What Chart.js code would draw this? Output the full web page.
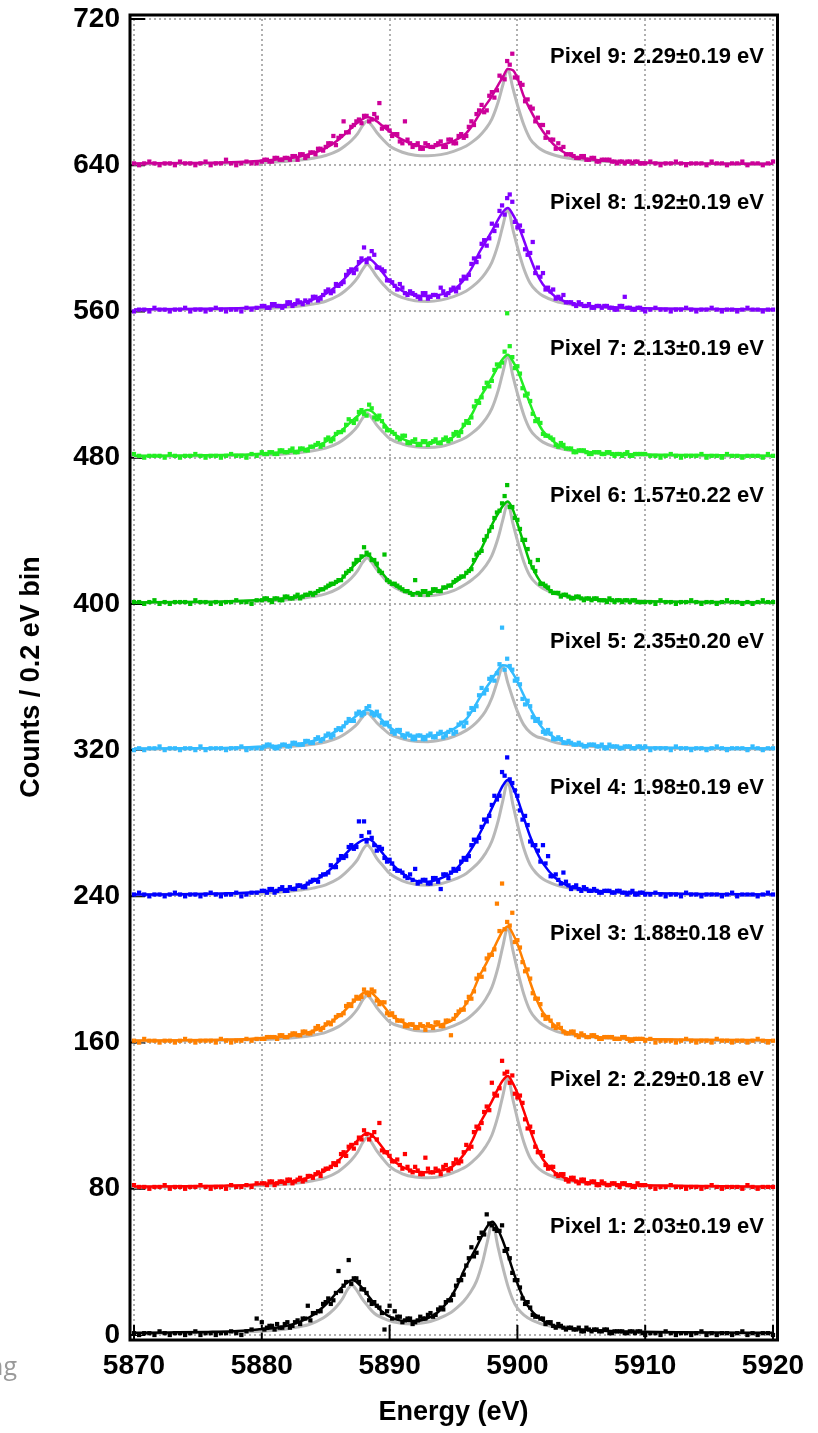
<!DOCTYPE html>
<html>
<head>
<meta charset="utf-8">
<title>Pixel spectra</title>
<script src="https://cdn.jsdelivr.net/npm/chart.js@4.4.1/dist/chart.umd.min.js"></script>
<style>
  html, body { margin: 0; padding: 0; background: #fff; }
  #chart { display: block; }
</style>
</head>
<body>
<canvas id="chart" width="818" height="1433"></canvas>
<script>
// energy points of the fitted curves (eV)
const energyGrid = [5870, 5874, 5877, 5879, 5881, 5882, 5883, 5884, 5885, 5886, 5886.5, 5887, 5887.5, 5887.9, 5888.25,
  5888.6, 5889, 5889.5, 5890, 5891, 5892, 5893, 5894, 5895, 5896, 5896.5, 5897, 5897.5, 5898, 5898.5,
  5898.85, 5899.25, 5899.65, 5900, 5900.5, 5901, 5901.5, 5902, 5903, 5904, 5905, 5907, 5910, 5914, 5920];
// pixel 1 lines sit about 1.2 eV lower
const energyGridP1 = [5870, 5872.8, 5875.8, 5877.8, 5879.8, 5880.8, 5881.8, 5882.8, 5883.8, 5884.8, 5885.3, 5885.8, 5886.3, 5886.7, 5887.05,
  5887.4, 5887.8, 5888.3, 5888.8, 5889.8, 5890.8, 5891.8, 5892.8, 5893.8, 5894.8, 5895.3, 5895.8, 5896.3, 5896.8, 5897.3,
  5897.65, 5898.05, 5898.45, 5898.8, 5899.3, 5899.8, 5900.3, 5900.8, 5901.8, 5902.8, 5903.8, 5905.8, 5908.8, 5912.8, 5920];
// bin centres of the measured counts (every other 0.2 eV bin over the whole range)
const binEnergy = [
  5870, 5870.4, 5870.8, 5871.2, 5871.6, 5872, 5872.4, 5872.8, 5873.2, 5873.6,
  5874, 5874.4, 5874.8, 5875.2, 5875.6, 5876, 5876.4, 5876.8, 5877.2, 5877.6,
  5878, 5878.4, 5878.8, 5879.2, 5879.6, 5880, 5880.4, 5880.8, 5881.2, 5881.6,
  5882, 5882.4, 5882.8, 5883.2, 5883.6, 5884, 5884.4, 5884.8, 5885.2, 5885.6,
  5886, 5886.4, 5886.8, 5887.2, 5887.6, 5888, 5888.4, 5888.8, 5889.2, 5889.6,
  5890, 5890.4, 5890.8, 5891.2, 5891.6, 5892, 5892.4, 5892.8, 5893.2, 5893.6,
  5894, 5894.4, 5894.8, 5895.2, 5895.6, 5896, 5896.4, 5896.8, 5897.2, 5897.6,
  5898, 5898.4, 5898.8, 5899.2, 5899.6, 5900, 5900.4, 5900.8, 5901.2, 5901.6,
  5902, 5902.4, 5902.8, 5903.2, 5903.6, 5904, 5904.4, 5904.8, 5905.2, 5905.6,
  5906, 5906.4, 5906.8, 5907.2, 5907.6, 5908, 5908.4, 5908.8, 5909.2, 5909.6,
  5910, 5910.4, 5910.8, 5911.2, 5911.6, 5912, 5912.4, 5912.8, 5913.2, 5913.6,
  5914, 5914.4, 5914.8, 5915.2, 5915.6, 5916, 5916.4, 5916.8, 5917.2, 5917.6,
  5918, 5918.4, 5918.8, 5919.2, 5919.6, 5920];
// the in-between bins around the lines
const binEnergyMid = [
  5880.2, 5880.6, 5881, 5881.4, 5881.8, 5882.2, 5882.6, 5883, 5883.4, 5883.8,
  5884.2, 5884.6, 5885, 5885.4, 5885.8, 5886.2, 5886.6, 5887, 5887.4, 5887.8,
  5888.2, 5888.6, 5889, 5889.4, 5889.8, 5890.2, 5890.6, 5891, 5891.4, 5891.8,
  5892.2, 5892.6, 5893, 5893.4, 5893.8, 5894.2, 5894.6, 5895, 5895.4, 5895.8,
  5896.2, 5896.6, 5897, 5897.4, 5897.8, 5898.2, 5898.6, 5899, 5899.4, 5899.8,
  5900.2, 5900.6, 5901, 5901.4, 5901.8, 5902.2, 5902.6, 5903, 5903.4, 5903.8,
  5904.2, 5904.6, 5905, 5905.4, 5905.8, 5906.2, 5906.6, 5907, 5907.4, 5907.8, 5908.2, 5908.6, 5909, 5909.4, 5909.8];

const xTicks = [5870, 5880, 5890, 5900, 5910, 5920];
const yTicks = [0, 80, 160, 240, 320, 400, 480, 560, 640, 720];

// each spectrum is shifted up by 80 counts
const offsets = [0, 80, 160, 240, 320, 400, 480, 560, 640];
const colors = ["#000000", "#ff0000", "#ff8000", "#0000ff", "#33bbff", "#00c000", "#22ee22", "#8000ff", "#cc0099"];
const pixelLabels = [
  "Pixel 1: 2.03\u00b10.19 eV", "Pixel 2: 2.29\u00b10.18 eV", "Pixel 3: 1.88\u00b10.18 eV",
  "Pixel 4: 1.98\u00b10.19 eV", "Pixel 5: 2.35\u00b10.20 eV", "Pixel 6: 1.57\u00b10.22 eV",
  "Pixel 7: 2.13\u00b10.19 eV", "Pixel 8: 1.92\u00b10.19 eV", "Pixel 9: 2.29\u00b10.19 eV"
];

// fitted curves (counts above each offset)
const fitP1 = [1.2, 1.4, 1.7, 2.1, 3.1, 3.7, 4.8, 6.8, 10.0, 15.3, 18.8, 22.7, 26.2, 28.9, 30.0, 29.2, 26.2, 21.8, 17.1, 10.8, 8.0, 7.6, 8.6, 12.6, 20.8, 27.0, 35.0, 41.5, 48.1, 55.2, 59.5, 62.0, 58.0, 52.7, 42.8, 32.2, 22.9, 16.1, 8.7, 5.3, 3.8, 2.6, 1.9, 1.5, 1.2];
const fitP2 = [1.2, 1.4, 1.7, 2.1, 3.1, 3.8, 4.8, 6.9, 10.1, 15.5, 19.1, 22.9, 26.5, 29.2, 30.4, 29.5, 26.5, 22.1, 17.3, 11.9, 9.4, 9.0, 9.9, 12.6, 20.7, 26.8, 34.9, 41.3, 47.8, 54.9, 59.2, 61.7, 57.7, 52.4, 42.6, 32.1, 22.8, 16.0, 8.6, 5.2, 3.8, 2.6, 1.9, 1.5, 1.2];
const fitP3 = [1.1, 1.3, 1.6, 2.0, 2.9, 3.5, 4.4, 6.3, 9.3, 14.3, 17.6, 21.1, 24.4, 26.9, 28.0, 27.2, 24.4, 20.3, 15.9, 11.2, 9.0, 8.8, 9.9, 12.8, 21.3, 27.6, 35.9, 42.5, 49.2, 56.5, 61.0, 63.5, 59.4, 54.0, 43.8, 33.0, 23.5, 16.5, 8.9, 5.4, 3.9, 2.7, 1.9, 1.5, 1.3];
const fitP4 = [1.0, 1.2, 1.6, 2.1, 3.2, 4.0, 5.3, 8.0, 12.6, 19.0, 22.8, 26.3, 29.0, 30.8, 31.3, 30.5, 27.5, 23.2, 19.0, 12.6, 8.6, 8.0, 9.9, 13.5, 21.7, 27.0, 33.6, 40.5, 48.2, 55.5, 60.5, 63.7, 59.5, 53.6, 43.0, 32.7, 24.5, 18.0, 9.9, 5.6, 4.0, 2.6, 1.8, 1.3, 1.0];
const fitP5 = [0.9, 1.0, 1.2, 1.6, 2.2, 2.7, 3.5, 5.0, 7.3, 11.2, 13.8, 16.6, 19.2, 21.1, 22.0, 21.3, 19.2, 15.9, 12.5, 8.7, 7.8, 7.6, 8.8, 11.5, 17.0, 22.0, 28.0, 33.5, 38.5, 44.0, 46.4, 45.8, 42.0, 37.5, 30.0, 22.8, 16.5, 11.8, 6.5, 4.0, 2.9, 2.0, 1.4, 1.1, 0.9];
const fitP6 = [0.8, 1.0, 1.3, 1.8, 2.6, 3.2, 4.0, 5.8, 8.6, 12.2, 15.5, 19.5, 23.0, 25.8, 26.8, 25.0, 20.8, 16.2, 12.2, 7.7, 5.8, 6.2, 7.7, 11.3, 16.5, 21.5, 27.7, 35.0, 43.2, 49.5, 53.5, 56.0, 51.5, 44.1, 33.0, 22.3, 15.5, 10.4, 5.8, 4.0, 3.0, 2.0, 1.4, 1.0, 0.8];
const fitP7 = [1.0, 1.2, 1.5, 1.8, 2.7, 3.2, 4.1, 5.9, 8.7, 13.3, 16.4, 19.7, 22.8, 25.1, 26.1, 25.4, 22.8, 19.0, 14.9, 10.3, 8.2, 8.0, 8.9, 11.4, 18.9, 24.5, 31.8, 37.7, 43.6, 50.1, 54.0, 56.3, 52.6, 47.9, 38.8, 29.3, 20.8, 14.6, 7.9, 4.8, 3.5, 2.4, 1.7, 1.4, 1.1];
const fitP8 = [1.1, 1.4, 1.6, 2.0, 2.9, 3.6, 4.6, 6.5, 9.6, 14.7, 18.1, 21.8, 25.2, 27.7, 28.9, 28.0, 25.2, 20.9, 16.4, 11.2, 8.8, 8.4, 9.2, 11.6, 19.0, 24.6, 32.0, 37.9, 43.9, 50.4, 54.3, 56.6, 52.9, 48.1, 39.1, 29.4, 20.9, 14.7, 7.9, 4.8, 3.5, 2.4, 1.7, 1.4, 1.1];
const fitP9 = [1.0, 1.2, 1.5, 2.0, 3.0, 3.8, 4.8, 6.7, 9.4, 14.0, 17.0, 20.3, 23.3, 25.3, 26.2, 25.8, 24.0, 21.2, 18.5, 14.0, 11.0, 10.0, 11.0, 13.2, 17.6, 22.0, 27.6, 32.6, 37.7, 44.0, 48.0, 52.7, 52.0, 47.7, 37.7, 30.4, 24.0, 18.5, 10.3, 5.7, 3.9, 2.3, 1.4, 1.0, 0.8];

// grey reference line shape for each pixel
const grayP1 = [0.8, 1.0, 1.3, 1.6, 2.0, 2.5, 3.2, 4.3, 6.0, 9.3, 11.9, 15.2, 19.7, 24.8, 27.4, 24.8, 20.3, 15.8, 11.9, 8.3, 6.5, 6.0, 6.8, 8.9, 12.3, 15.1, 18.5, 23.1, 29.5, 40.6, 51.1, 61.5, 49.2, 38.8, 25.8, 16.9, 12.3, 9.4, 6.2, 4.5, 3.5, 2.4, 1.7, 1.2, 0.9];
const grayP2 = [0.9, 1.0, 1.3, 1.6, 2.1, 2.6, 3.3, 4.4, 6.1, 9.5, 12.2, 15.6, 20.1, 25.3, 28.1, 25.3, 20.7, 16.2, 12.2, 8.2, 6.4, 6.0, 6.7, 8.9, 12.2, 15.0, 18.3, 22.9, 29.3, 40.3, 50.6, 61.0, 48.8, 38.4, 25.6, 16.8, 12.2, 9.3, 6.1, 4.5, 3.5, 2.4, 1.7, 1.2, 0.9];
const grayP3 = [0.8, 1.0, 1.2, 1.5, 1.9, 2.4, 3.0, 4.0, 5.6, 8.7, 11.2, 14.3, 18.5, 23.3, 25.8, 23.3, 19.1, 14.9, 11.2, 8.5, 6.6, 6.2, 6.9, 9.1, 12.6, 15.4, 18.9, 23.6, 30.2, 41.6, 52.3, 63.0, 50.4, 39.7, 26.5, 17.3, 12.6, 9.6, 6.3, 4.6, 3.6, 2.5, 1.7, 1.2, 1.0];
const grayP4 = [0.9, 1.1, 1.3, 1.6, 2.1, 2.6, 3.4, 4.5, 6.3, 9.7, 12.5, 16.0, 20.2, 25.5, 28.1, 25.5, 20.8, 16.6, 12.5, 8.5, 6.6, 6.1, 6.9, 9.1, 12.5, 15.4, 18.8, 23.5, 30.1, 41.4, 52.0, 62.7, 50.2, 39.5, 26.3, 17.2, 12.5, 9.5, 6.3, 4.6, 3.6, 2.5, 1.7, 1.2, 0.9];
const grayP5 = [0.6, 0.8, 0.9, 1.2, 1.5, 1.9, 2.4, 3.2, 4.4, 6.8, 8.8, 11.3, 14.6, 18.3, 20.3, 18.3, 15.0, 11.7, 8.8, 6.2, 4.8, 4.6, 5.5, 7.4, 10.8, 13.3, 16.6, 21.2, 28.5, 39.1, 46.0, 36.8, 28.1, 21.2, 13.8, 9.7, 7.4, 6.4, 4.1, 3.0, 2.4, 1.7, 1.2, 0.9, 0.7];
const grayP6 = [0.8, 0.9, 1.2, 1.4, 1.9, 2.3, 3.0, 4.0, 5.5, 8.5, 11.0, 14.0, 18.2, 22.8, 25.3, 22.8, 18.7, 14.6, 11.0, 6.8, 4.9, 4.5, 5.2, 7.2, 11.0, 13.5, 16.5, 20.6, 26.4, 36.3, 45.7, 55.0, 44.0, 34.7, 23.1, 15.1, 11.0, 8.4, 5.5, 4.0, 3.1, 2.2, 1.5, 1.1, 0.8];
const grayP7 = [0.7, 0.9, 1.1, 1.4, 1.8, 2.2, 2.8, 3.8, 5.2, 8.1, 10.5, 13.4, 17.3, 21.8, 24.1, 21.8, 17.8, 13.9, 10.5, 7.5, 5.9, 5.5, 6.1, 8.1, 11.2, 13.7, 16.7, 20.9, 26.8, 36.8, 46.3, 55.8, 44.6, 35.2, 23.4, 15.3, 11.2, 8.5, 5.6, 4.1, 3.2, 2.2, 1.5, 1.1, 0.8];
const grayP8 = [0.8, 1.0, 1.2, 1.5, 1.9, 2.4, 3.0, 4.0, 5.6, 8.7, 11.2, 14.3, 18.5, 23.2, 25.8, 23.2, 19.0, 14.8, 11.2, 7.6, 5.9, 5.5, 6.2, 8.1, 11.2, 13.7, 16.8, 21.0, 26.9, 37.0, 46.5, 56.0, 44.8, 35.3, 23.5, 15.4, 11.2, 8.5, 5.6, 4.1, 3.2, 2.2, 1.5, 1.1, 0.8];
const grayP9 = [0.7, 0.9, 1.1, 1.4, 1.8, 2.2, 2.8, 3.8, 5.3, 8.1, 10.5, 13.4, 17.3, 21.8, 24.2, 21.8, 17.9, 13.9, 10.5, 7.1, 5.5, 5.2, 5.8, 7.6, 10.5, 12.9, 15.8, 19.7, 25.2, 34.7, 43.6, 52.5, 42.0, 33.1, 22.1, 14.4, 10.5, 8.0, 5.3, 3.8, 3.0, 2.1, 1.4, 1.0, 0.8];

// measured counts at binEnergy
const countsP1 = [1,0,1,1,0,2,1,0,1,1,0,1,2,0,1,1,0,1,1,2,1,0,2,3,9,
  7,4,5,6,4,7,5,8,9,16, 12,13,17,20,19,35,27,41,31,29, 25,19,18,15,3,16,13,10,8,9,
  7,10,9,12,11,15,18,19,27,30, 38,48,45,56,66,60,57,60,47,34, 30,20,18,11,10,9,7,5,6,4,
  4,3,4,2,3,3,2,3,1,2,2,1,2,1,2,
  0,1,1,0,2,1,0,1,1,0,1,2,0,1,0,1,1,0,1,2,0,1,0,1,1,0];
const countsP2 = [2,1,1,0,1,1,2,0,1,1,0,1,1,2,1,0,1,1,0,2,1,1,2,1,3,
  3,2,4,3,4,5,3,5,4,7, 6,9,10,11,14,15,20,23,22,28, 32,27,31,36,20,18,15,13,19,10,
  12,8,17,9,11,8,13,11,16,15, 24,23,34,36,45,58,51,70,64,62, 50,47,33,31,20,18,11,12,7,8,
  4,6,3,5,3,4,2,3,2,3,1,3,2,1,2,
  2,1,0,1,1,2,1,1,0,1,1,0,1,2,1,0,1,1,1,0,2,1,0,1,1,1];
const countsP3 = [1,0,2,1,1,0,1,1,0,1,2,1,0,1,1,1,0,2,1,0,1,1,2,1,2,
  2,3,3,2,4,3,5,4,6,5, 6,9,8,11,12,15,16,21,23,24, 29,26,28,21,22,15,14,12,9,10,
  8,10,7,9,11,9,12,4,15,18, 22,24,35,36,46,48,76,87,66,71, 56,44,40,27,24,15,14,9,10,6,
  5,6,3,4,3,4,2,3,3,2,2,3,1,2,2,
  1,2,0,1,1,1,0,1,2,1,0,1,1,0,2,1,1,0,1,1,0,1,2,1,0,1];
const countsP4 = [1,2,1,0,1,1,0,1,2,1,0,1,1,0,1,2,1,0,1,1,2,0,1,2,2,
  3,2,4,3,5,3,4,6,5,7, 9,8,12,13,16,20,21,27,26,41, 41,35,28,27,21,20,15,14,11,12,
  15,8,9,7,10,4,12,13,14,19, 20,28,30,38,41,50,53,68,76,62, 55,42,39,28,25,28,22,11,9,13,
  6,5,4,5,3,4,2,3,3,2,3,2,2,1,2,
  1,1,2,1,0,1,1,0,2,1,1,0,1,1,1,0,1,2,0,1,1,1,0,1,2,1];
const countsP5 = [0,1,0,1,1,2,0,1,1,0,1,1,0,2,0,1,1,1,0,1,1,2,0,1,1,
  1,3,2,1,3,2,4,3,3,5, 4,7,6,9,8,12,13,17,16,21, 20,24,19,19,14,13,9,11,7,8,
  6,8,6,9,7,10,8,11,10,15, 15,23,24,34,33,40,42,67,50,44, 39,28,27,18,17,10,11,6,7,4,
  5,3,4,2,3,3,2,1,3,2,1,2,2,1,2,
  2,0,1,1,1,0,2,1,1,0,1,1,0,1,2,1,0,1,1,1,0,2,1,0,1,1];
const countsP6 = [1,1,0,1,2,0,1,0,1,1,1,0,2,1,1,0,1,0,1,1,2,1,1,0,2,
  2,3,1,3,2,4,3,5,4,5, 5,7,8,10,11,13,15,18,22,24, 31,27,24,18,27,12,11,9,7,6,
  13,5,7,6,8,7,9,10,13,15, 17,19,27,29,37,42,50,55,65,53, 46,35,30,20,24,11,9,6,6,5,
  4,3,4,2,3,3,2,2,3,1,2,2,1,2,1,
  1,1,0,2,1,1,0,1,1,2,1,0,1,1,0,1,2,1,1,0,1,0,1,2,1,1];
const countsP7 = [2,1,0,1,1,1,0,2,1,0,1,1,2,1,0,1,1,0,1,2,1,1,0,2,1,
  3,2,3,2,4,3,5,3,5,4, 6,8,7,11,10,14,15,21,19,25, 24,29,22,23,17,15,13,10,12,8,
  10,7,9,8,10,8,11,10,14,14, 20,22,31,33,41,42,51,52,79,55, 50,38,35,24,21,13,12,10,6,7,
  5,3,4,4,2,3,3,2,3,1,2,2,1,2,2,
  2,1,1,0,1,2,1,0,1,1,1,2,0,1,1,0,2,1,1,0,1,1,1,0,2,1];
const countsP8 = [0,1,1,0,2,1,1,0,1,1,2,0,1,1,0,1,2,1,0,1,1,0,2,1,2,
  3,2,4,3,2,5,3,6,4,5, 8,6,9,12,11,14,16,22,21,27, 35,29,31,24,22,17,14,15,10,11,
  9,7,10,8,9,13,9,12,11,17, 18,26,27,37,36,48,47,58,62,60, 46,44,31,38,24,21,13,12,8,9,
  5,4,5,3,4,2,3,3,2,1,3,8,2,1,2,
  0,1,2,1,1,0,1,1,2,1,0,1,1,2,1,0,1,1,0,1,2,1,1,0,1,1];
const countsP9 = [1,0,1,2,1,0,1,1,0,2,1,1,0,1,2,0,1,1,3,1,0,1,2,1,1,
  2,3,2,4,3,4,5,3,6,5, 7,9,8,12,16,15,24,18,22,25, 27,24,28,34,21,19,17,13,24,12,
  11,9,12,10,11,13,10,14,12,17, 16,24,28,33,30,40,41,48,57,61, 48,44,36,31,26,22,18,14,12,10,
  6,5,4,5,3,4,2,3,3,2,2,1,2,2,1,
  1,2,1,0,1,1,2,1,0,1,1,1,0,2,1,1,0,1,1,2,0,1,1,0,1,2];

// measured counts at binEnergyMid
const midP1 = [3,5,3,4,6,4,7,6,9,8, 12,13,18,17,23,24,29,28,31,25, 23,17,16,12,13,9,10,7,9,6,
  8,9,11,10,14,14,19,22,30,33, 42,43,53,55,61,58,57,46,42,30, 26,17,15,10,9,6,7,4,5,3,
  4,3,2,4,2,3,2,3,1,2,2,1,2,2,1];
const midP2 = [3,4,2,4,3,5,4,6,5,7, 8,7,11,12,13,19,18,24,25,27, 30,29,27,21,20,15,16,11,12,9,
  10,8,11,9,10,12,10,14,14,20, 22,31,33,42,43,52,55,63,58,52, 51,38,34,23,20,13,12,8,8,5,
  6,4,5,3,4,2,4,2,3,2,3,2,1,3,2];
const midP3 = [2,3,3,4,3,4,5,4,6,5, 8,7,10,10,14,15,20,20,25,25, 27,29,23,22,16,16,12,12,9,10,
  8,9,10,8,11,9,12,13,17,18, 25,28,37,40,48,51,61,62,64,55, 52,39,35,24,21,13,12,8,8,5,
  6,4,5,3,4,3,2,3,3,2,3,2,1,2,2];
const midP4 = [3,4,2,4,3,5,4,6,5,8, 9,11,12,17,16,22,22,28,27,33, 30,32,25,26,19,18,14,13,10,9,
  7,9,7,10,8,12,10,15,15,21, 22,31,32,42,44,55,55,66,64,58, 47,44,30,28,19,18,11,12,7,8,
  4,6,3,4,3,3,2,3,2,3,2,1,3,1,2];
const midP5 = [2,3,1,2,3,2,4,3,5,4, 6,5,8,7,11,11,15,16,20,19, 23,20,21,15,15,10,11,8,9,6,
  8,6,8,7,9,7,10,9,14,13, 20,22,30,31,39,38,47,44,46,38, 36,25,24,16,15,9,9,6,6,4,
  4,3,3,2,3,2,3,1,2,2,1,2,1,2,1];
const midP6 = [3,2,3,2,4,3,4,3,5,6, 6,8,9,11,12,13,17,19,24,26, 28,24,22,17,13,11,10,8,7,5,
  6,7,5,8,7,9,10,12,14,15, 18,24,28,35,40,47,51,59,53,47, 41,35,23,18,11,10,7,6,4,5,
  3,4,3,3,2,3,2,1,2,2,1,2,2,1,1];
const midP7 = [2,3,2,4,3,4,3,5,4,6, 7,6,10,9,13,14,18,20,21,26, 23,27,21,20,15,14,11,12,8,9,
  7,9,7,9,8,10,9,13,12,18, 19,28,30,38,39,48,50,58,61,49, 46,34,31,20,19,12,11,7,8,5,
  5,3,4,3,2,3,2,3,2,2,1,3,1,2,2];
const midP8 = [3,2,4,3,3,5,4,5,6,6, 8,7,11,10,15,15,20,23,23,29, 27,33,24,23,17,16,12,13,9,10,
  8,10,7,9,8,11,10,13,13,19, 20,29,30,39,40,44,55,53,64,49, 47,34,32,21,19,12,11,7,7,5,
  5,3,4,3,2,3,2,3,2,1,3,2,1,2,1];
const midP9 = [3,2,4,3,4,3,5,6,4,7, 6,9,10,12,11,16,18,21,24,23, 27,25,26,20,21,16,17,12,14,10,
  12,9,11,10,12,10,14,12,16,15, 21,22,30,29,38,37,49,47,55,48, 45,35,32,24,22,15,14,9,9,6,
  6,4,5,3,4,2,3,3,2,1,2,2,1,2,1];

const fits = [fitP1, fitP2, fitP3, fitP4, fitP5, fitP6, fitP7, fitP8, fitP9];
const grays = [grayP1, grayP2, grayP3, grayP4, grayP5, grayP6, grayP7, grayP8, grayP9];
const counts = [countsP1, countsP2, countsP3, countsP4, countsP5, countsP6, countsP7, countsP8, countsP9];
const countsMid = [midP1, midP2, midP3, midP4, midP5, midP6, midP7, midP8, midP9];

const labelFont = "'Liberation Sans', Arial, sans-serif";

function toPoints(xs, ys, offset) {
  return xs.map((e, i) => ({ x: e, y: offset + ys[i] }));
}

const datasets = [];
for (let p = 0; p < 9; p++) {
  const grid = p === 0 ? energyGridP1 : energyGrid;
  datasets.push({
    data: toPoints(grid, grays[p], offsets[p]),
    borderColor: "#b8b8b8",
    borderWidth: 3,
    pointRadius: 0,
    cubicInterpolationMode: "monotone",
    order: 3,
    clip: 6
  });
  datasets.push({
    data: toPoints(binEnergy, counts[p], offsets[p]).concat(toPoints(binEnergyMid, countsMid[p], offsets[p])),
    showLine: false,
    backgroundColor: colors[p],
    borderWidth: 0,
    pointStyle: "rect",
    pointRadius: 3,
    order: 2,
    clip: 6
  });
  datasets.push({
    data: toPoints(grid, fits[p], offsets[p]),
    borderColor: colors[p],
    borderWidth: 2.5,
    pointRadius: 0,
    cubicInterpolationMode: "monotone",
    order: 1,
    clip: 6
  });
}

function frameBox(ca) {
  return { left: ca.left - 4, top: ca.top - 4, right: ca.right + 4.5, bottom: ca.bottom + 5 };
}

// inward ticks go under the data, frame and labels on top
const decorations = {
  id: "decorations",
  beforeDatasetsDraw(chart) {
    const ctx = chart.ctx;
    const f = frameBox(chart.chartArea);
    const xs = chart.scales.x;
    const ys = chart.scales.y;
    ctx.save();
    ctx.strokeStyle = "#000";
    ctx.lineWidth = 2;
    ctx.beginPath();
    xTicks.forEach(v => {
      const px = xs.getPixelForValue(v);
      ctx.moveTo(px, f.bottom);
      ctx.lineTo(px, f.bottom - 15);
    });
    yTicks.forEach(v => {
      const py = ys.getPixelForValue(v);
      ctx.moveTo(f.left, py);
      ctx.lineTo(f.left + 15, py);
    });
    ctx.stroke();
    ctx.restore();
  },
  afterDatasetsDraw(chart) {
    const ctx = chart.ctx;
    const ca = chart.chartArea;
    const f = frameBox(ca);
    const ys = chart.scales.y;

    ctx.save();
    ctx.strokeStyle = "#000";
    ctx.lineWidth = 3;
    ctx.strokeRect(f.left, f.top, f.right - f.left, f.bottom - f.top);

    ctx.fillStyle = "#000";
    ctx.font = "bold 22px " + labelFont;
    ctx.textAlign = "right";
    ctx.textBaseline = "alphabetic";
    pixelLabels.forEach((t, p) => {
      ctx.fillText(t, ca.right - 9, ys.getPixelForValue(offsets[p] + 56));
    });

    // cut-off caption fragment at the left edge
    ctx.fillStyle = "#9a9a9a";
    ctx.font = "25px 'Open Sans', sans-serif";
    ctx.fillText("ng", 17, 1375);
    ctx.restore();
  }
};

const tickOpts = {
  color: "#000",
  padding: 0,
  autoSkip: false,
  maxRotation: 0,
  callback: v => String(v),
  font: { family: labelFont, size: 28, weight: "bold" }
};
const gridOpts = { color: "#b0b0b0", lineWidth: 2, drawTicks: true, tickLength: 14, tickColor: "rgba(0,0,0,0)" };

new Chart(document.getElementById("chart"), {
  type: "line",
  data: { datasets: datasets },
  options: {
    responsive: false,
    animation: false,
    devicePixelRatio: 1,
    layout: { padding: { left: 0, top: 19, right: 45, bottom: 0 } },
    plugins: { legend: { display: false }, tooltip: { enabled: false } },
    scales: {
      x: {
        type: "linear",
        min: 5870,
        max: 5920,
        afterBuildTicks: s => { s.ticks = xTicks.map(v => ({ value: v })); },
        afterFit: s => { s.height = 98; },
        ticks: tickOpts,
        grid: gridOpts,
        border: { display: false, dash: [2, 3] },
        title: {
          display: true,
          text: "Energy (eV)",
          color: "#000",
          font: { family: labelFont, size: 27, weight: "bold" },
          padding: { top: 0, bottom: 4 }
        }
      },
      y: {
        min: 0,
        max: 720,
        afterBuildTicks: s => { s.ticks = yTicks.map(v => ({ value: v })); },
        afterFit: s => { s.width = 134; },
        ticks: tickOpts,
        grid: gridOpts,
        border: { display: false, dash: [2, 3] },
        title: {
          display: true,
          text: "Counts / 0.2 eV bin",
          color: "#000",
          font: { family: labelFont, size: 27, weight: "bold" },
          padding: { top: 15, bottom: 0 }
        }
      }
    }
  },
  plugins: [decorations]
});
</script>
</body>
</html>
